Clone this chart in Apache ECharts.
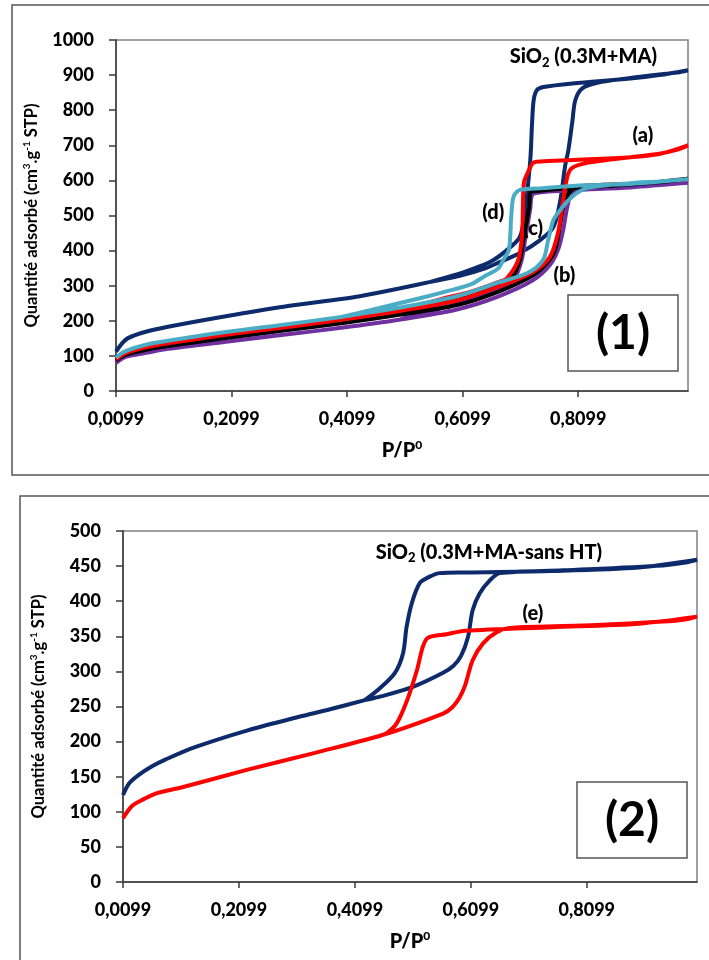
<!DOCTYPE html>
<html style="height: 100%">
<head>
  <meta charset="utf-8">
</head>
<body style="height: 100%; margin: 0; background: #fff">
<div id="container" style="width: 709px; height: 960px"></div>
<script src="https://cdn.jsdelivr.net/npm/echarts@6/dist/echarts.min.js"></script>
<script type="text/javascript">
// x axis starts at P/P0 = 0.0099 (like the original Excel chart)
var P0 = 0.0099;
var xTicks = [0, 0.2, 0.4, 0.6, 0.8];   // offsets from P0

// ---- chart (1) : SiO2 (0.3M+MA) and samples (a)-(d) ----
var sio2MA_ads = [[0.0099,112],[0.02,135],[0.03,150],[0.06,168],[0.1,183],[0.2,213],[0.3,240],[0.4,262],[0.432,270],[0.5,292],[0.554,311],[0.605,328],[0.65,350],[0.675,368],[0.709,393],[0.744,430],[0.767,467],[0.779,544],[0.787,638],[0.793,687],[0.8,770],[0.805,829],[0.817,862],[0.843,878],[0.9,892],[0.95,902],[0.98,907],[1.0,914]];
var sio2MA_des = [[0.95,900],[0.9,890],[0.8,876],[0.75,866],[0.739,858],[0.733,830],[0.73,760],[0.727,658],[0.718,516],[0.709,439],[0.687,402],[0.658,368],[0.623,345],[0.6,332],[0.554,311]];

var curveA_ads = [[0.0099,90],[0.02,102],[0.03,110],[0.06,124],[0.1,136],[0.2,160],[0.3,181],[0.4,203],[0.5,228],[0.6,258],[0.67,296],[0.732,339],[0.761,382],[0.775,450],[0.784,544],[0.791,610],[0.799,635],[0.825,650],[0.87,660],[0.9,666],[0.95,676],[0.98,687],[1.0,700]];
var curveA_des = [[0.95,675],[0.9,666],[0.8,658],[0.745,654],[0.732,650],[0.725,630],[0.716,593],[0.713,450],[0.706,373],[0.687,322],[0.675,312],[0.623,282],[0.58,265],[0.5,228]];

var curveB_ads = [[0.0099,80],[0.02,92],[0.03,99],[0.06,108],[0.1,120],[0.2,140],[0.3,160],[0.4,180],[0.5,203],[0.6,232],[0.67,268],[0.732,316],[0.761,359],[0.775,402],[0.784,459],[0.791,524],[0.799,564],[0.818,580],[0.85,585],[0.9,588],[0.95,590],[1.0,593]];
var curveB_des = [[0.9,580],[0.8,572],[0.74,565],[0.73,558],[0.727,520],[0.718,430],[0.712,373],[0.7,322],[0.675,292],[0.62,258],[0.5,203]];

var curveC_ads = [[0.0099,87],[0.02,98],[0.03,105],[0.06,117],[0.1,128],[0.2,151],[0.3,172],[0.4,193],[0.5,217],[0.6,245],[0.67,282],[0.732,330],[0.756,365],[0.77,402],[0.779,478],[0.787,544],[0.799,573],[0.818,584],[0.9,590],[0.95,595],[1.0,605]];
var curveC_des = [[0.9,588],[0.8,578],[0.74,570],[0.727,565],[0.725,524],[0.715,430],[0.709,373],[0.696,325],[0.675,302],[0.62,268],[0.58,252],[0.5,217]];

var curveD_ads = [[0.0099,95],[0.02,108],[0.03,116],[0.06,131],[0.1,143],[0.2,168],[0.3,189],[0.4,211],[0.45,224],[0.5,237],[0.6,270],[0.67,308],[0.722,336],[0.749,373],[0.758,430],[0.767,487],[0.779,516],[0.799,553],[0.825,578],[0.9,592],[0.95,597],[1.0,603]];
var curveD_des = [[0.9,590],[0.82,586],[0.75,578],[0.709,573],[0.698,553],[0.694,496],[0.69,402],[0.68,373],[0.672,350],[0.646,325],[0.623,303],[0.58,283],[0.55,270],[0.5,250],[0.45,230],[0.4,211]];

// ---- chart (2) : SiO2 (0.3M+MA-sans HT) and sample (e) ----
var sio2HT_ads = [[0.0099,124],[0.02,140],[0.036,152],[0.06,165],[0.082,174],[0.134,192],[0.225,216],[0.312,235],[0.367,246],[0.427,259],[0.453,264],[0.51,278],[0.562,298],[0.58,308],[0.593,322],[0.605,349],[0.613,387],[0.625,411],[0.643,430],[0.66,440],[0.769,444],[0.941,451],[0.98,455],[1.0,459]];
var sio2HT_des = [[0.9,448],[0.75,443],[0.6,441],[0.556,440],[0.539,435],[0.522,426],[0.508,397],[0.499,363],[0.493,326],[0.479,298],[0.453,276],[0.427,259]];

var curveE_ads = [[0.0099,91],[0.025,108],[0.043,117],[0.07,127],[0.112,135],[0.225,160],[0.341,184],[0.456,209],[0.562,240],[0.578,249],[0.59,262],[0.6,280],[0.613,316],[0.631,340],[0.655,356],[0.677,362],[0.827,366],[0.941,371],[0.98,374],[1.0,378]];
var curveE_des = [[0.9,368],[0.75,363],[0.6,358],[0.568,353],[0.536,348],[0.527,335],[0.517,302],[0.5,259],[0.482,226],[0.465,212],[0.456,209]];

// annotations: [text, P/P0, quantity]
var notes1 = [['SiO{s|2} (0.3M+MA)', 0.819, 952], ['(a)', 0.922, 729], ['(d)', 0.663, 507], ['(c)', 0.732, 464], ['(b)', 0.786, 328]];
var notes2 = [['SiO{s|2} (0.3M+MA-sans HT)', 0.641, 470], ['(e)', 0.717, 382]];

var FONT = 'Lato, "Open Sans", sans-serif';

function shift(arr) {
    return arr.map(function (d) { return [d[0] - P0, d[1]]; });
}

function curve(ads, des, color, idx) {
    return {
        type: 'line',
        xAxisIndex: idx, yAxisIndex: idx,
        data: shift(ads.concat(des)),
        showSymbol: false, symbol: 'none',
        smooth: 0.3,
        lineStyle: { color: color, width: 4 },
        silent: true
    };
}

function xAxis(idx) {
    return {
        type: 'value', gridIndex: idx, min: 0, max: 0.9901,
        axisLine: { onZero: false, lineStyle: { color: '#3a3a3a', width: 1.5 } },
        axisTick: { customValues: xTicks, length: 6, lineStyle: { color: '#3a3a3a', width: 1.5 } },
        splitLine: { show: false },
        axisLabel: {
            customValues: xTicks, margin: 19,
            fontFamily: FONT, fontWeight: 900, fontSize: 18, color: '#000',
            formatter: function (v) { return (v + P0).toFixed(4).replace('.', ','); }
        },
        name: 'P/P{u|0}', nameLocation: 'middle', nameGap: 48,
        nameTextStyle: {
            fontFamily: FONT, fontWeight: 900, fontSize: 20, color: '#000', lineHeight: 24,
            rich: {
                u: { fontFamily: FONT, fontWeight: 900, fontSize: 12, color: '#000', verticalAlign: 'top', lineHeight: 24 }
            }
        }
    };
}

function yAxis(idx, max, step) {
    return {
        type: 'value', gridIndex: idx, min: 0, max: max, interval: step,
        axisLine: { show: true, lineStyle: { color: '#3a3a3a', width: 1.5 } },
        axisTick: { show: true, length: 7, lineStyle: { color: '#3a3a3a', width: 1.5 } },
        splitLine: { show: false },
        axisLabel: {
            margin: 22, fontFamily: FONT, fontWeight: 900, fontSize: 18, color: '#000',
            formatter: function (v) { return String(v); }
        },
        name: 'Quantité adsorbé (cm{u|3}.g{u|-1} STP)', nameLocation: 'middle', nameGap: 74, nameRotate: 90,
        nameTextStyle: {
            fontFamily: FONT, fontWeight: 700, fontSize: 16.5, color: '#000', lineHeight: 20,
            rich: {
                u: { fontFamily: FONT, fontWeight: 700, fontSize: 10, color: '#000', verticalAlign: 'top', lineHeight: 20 }
            }
        }
    };
}

var dom = document.getElementById('container');
var myChart = echarts.init(dom, null, { renderer: 'canvas' });

var boxes = [
    { type: 'rect', shape: { x: 12, y: 5, width: 720, height: 470 }, style: { fill: 'none', stroke: '#555', lineWidth: 1.5 }, z: -1 },
    { type: 'rect', shape: { x: 20, y: 496, width: 720, height: 500 }, style: { fill: 'none', stroke: '#555', lineWidth: 1.5 }, z: -1 },
    { type: 'rect', shape: { x: 568, y: 295, width: 110, height: 76 }, style: { fill: '#fff', stroke: '#555', lineWidth: 1.5 }, z: 10 },
    { type: 'text', x: 623, y: 334, style: { text: '(1)', font: 'bold 48px ' + FONT, fill: '#000', align: 'center', verticalAlign: 'middle' }, z: 11 },
    { type: 'rect', shape: { x: 577, y: 782, width: 110, height: 76 }, style: { fill: '#fff', stroke: '#555', lineWidth: 1.5 }, z: 10 },
    { type: 'text', x: 632, y: 821, style: { text: '(2)', font: 'bold 48px ' + FONT, fill: '#000', align: 'center', verticalAlign: 'middle' }, z: 11 }
];

var option = {
    animation: false,
    backgroundColor: '#fff',
    grid: [
        { left: 116, top: 40, width: 572, height: 351, show: true, borderColor: '#808080', borderWidth: 1.5, backgroundColor: 'transparent' },
        { left: 123, top: 531, width: 574, height: 351, show: true, borderColor: '#808080', borderWidth: 1.5, backgroundColor: 'transparent' }
    ],
    xAxis: [xAxis(0), xAxis(1)],
    yAxis: [yAxis(0, 1000, 100), yAxis(1, 500, 50)],
    series: [
        curve(sio2MA_ads, sio2MA_des, '#0d2a6b', 0),
        curve(curveB_ads, curveB_des, '#7030a0', 0),
        curve(curveC_ads, curveC_des, '#000000', 0),
        curve(curveA_ads, curveA_des, '#ff0000', 0),
        curve(curveD_ads, curveD_des, '#4bacc6', 0),
        curve(sio2HT_ads, sio2HT_des, '#0d2a6b', 1),
        curve(curveE_ads, curveE_des, '#ff0000', 1)
    ],
    graphic: boxes
};

myChart.setOption(option);

// place the text annotations at data coordinates, through the chart's own scales
function noteGraphics(list, idx) {
    return list.map(function (n) {
        var pt = myChart.convertToPixel({ gridIndex: idx }, [n[1] - P0, n[2]]);
        return {
            type: 'text', x: pt[0], y: pt[1], z: 12, silent: true,
            style: {
                text: n[0], align: 'center', verticalAlign: 'middle',
                font: '900 20px ' + FONT, fill: '#000', lineHeight: 24,
                rich: {
                    s: { font: '900 13px ' + FONT, fill: '#000', verticalAlign: 'bottom', lineHeight: 24 }
                }
            }
        };
    });
}

myChart.setOption({ graphic: boxes.concat(noteGraphics(notes1, 0), noteGraphics(notes2, 1)) });
</script>
</body>
</html>
